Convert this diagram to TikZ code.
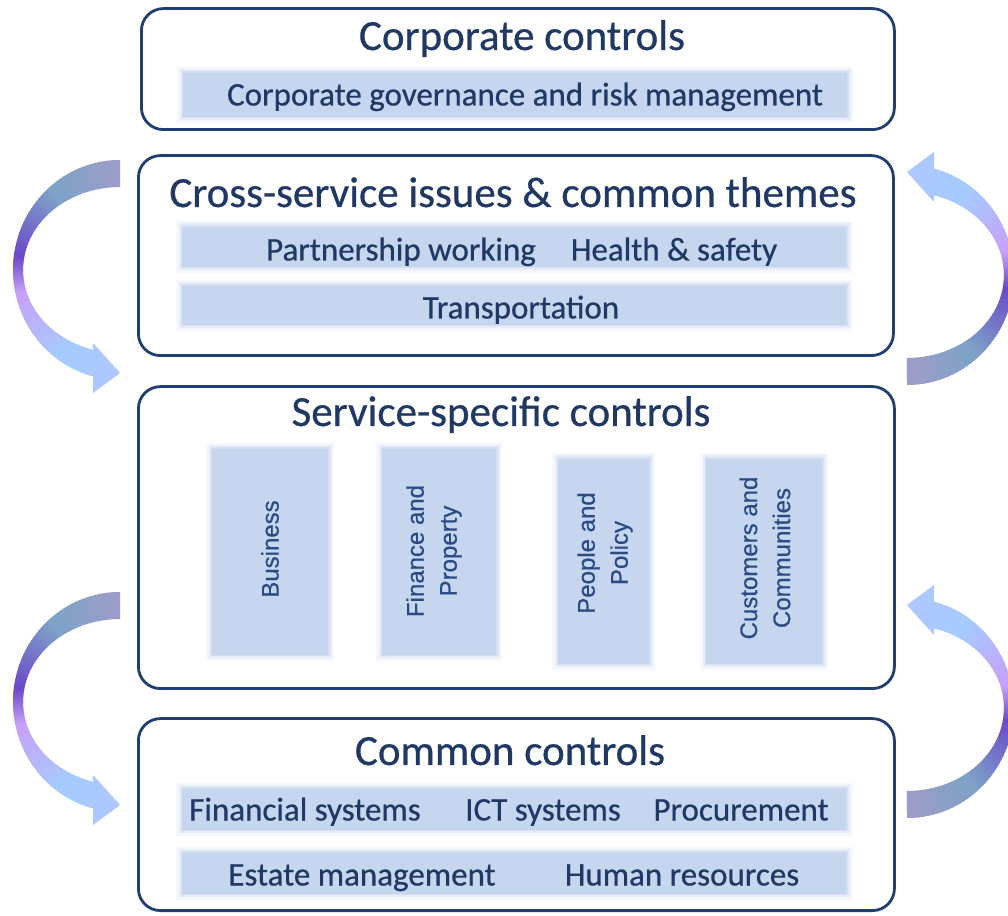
\documentclass[tikz,border=0pt]{standalone}
\usepackage{fontspec}
\setmainfont{Carlito}[FakeBold=0.6]
\newfontfamily\vfont{Liberation Sans}[FakeBold=0.5]
\definecolor{navy}{HTML}{1F3864}
\definecolor{boxline}{HTML}{203F70}
\definecolor{band}{HTML}{C6D6EE}
\definecolor{vtext}{HTML}{2A4A84}
\definecolor{cA}{HTML}{A09CC8}
\definecolor{cB}{HTML}{7EA2C8}
\definecolor{cC}{HTML}{6A48C8}
\definecolor{cD}{HTML}{C8A0F8}
\definecolor{cE}{HTML}{A4CCFF}
\definecolor{cF}{HTML}{B8C4FF}
\tikzset{
  bigbox/.style={draw=boxline,line width=2.8pt,rounded corners=22pt,fill=white},
  soft/.style={fill=band,
    preaction={draw=band!20!white,line width=12pt},
    preaction={draw=band!45!white,line width=7pt},
    preaction={draw=band!75!white,line width=3pt}},
  title/.style={text=navy,font=\fontsize{43}{46}\selectfont,inner sep=0pt,text height=28pt,text depth=8pt},
  item/.style={text=navy,font=\fontsize{33}{36}\selectfont,inner sep=0pt,text height=22pt,text depth=7pt},
  vlabel/.style={text=vtext,font=\vfont\fontsize{24}{33}\selectfont,rotate=90,align=center,inner sep=0pt},
}
\newcommand\arrowpath{(0,110) arc[start angle=90,end angle=255.4,x radius=107pt,y radius=110pt] -- (-27,-123) -- (0,-103) -- (-27,-73) -- (-27,-79.7) arc[start angle=253.8,end angle=90,x radius=97pt,y radius=83pt] -- cycle}
\newcommand\curvedarrow[3]{%
  \begin{scope}[shift={(#1,#2)},rotate=#3]
    \clip \arrowpath;
    \foreach \s/\e/\ca/\cb in {85/130/cA/cB,130/172/cB/cC,172/192/cC/cD,192/235/cD/cE,235/290/cE/cF}{
      \foreach \i in {0,...,19}{
        \pgfmathsetmacro\a{\s+(\e-\s)*\i/20}
        \pgfmathsetmacro\b{\a+(\e-\s)/20+0.6}
        \pgfmathtruncatemacro\p{100-5*\i}
        \fill[\ca!\p!\cb] (0,0) -- (\a:170pt) arc[start angle=\a,end angle=\b,radius=170pt] -- cycle;
      }
    }
  \end{scope}
}
\begin{document}
\begin{tikzpicture}[x=1pt,y=1pt]
\useasboundingbox (0,0) rectangle (1008,915);
\fill[white] (0,0) rectangle (1008,915);

% curved arrows
\curvedarrow{120}{645}{0}
\curvedarrow{120}{213}{0}
\curvedarrow{907}{640}{180}
\curvedarrow{907}{207}{180}

% big boxes
\node[bigbox,minimum width=753pt,minimum height=121pt,anchor=south west] (corp) at (140,784) {};
\node[bigbox,minimum width=755pt,minimum height=200pt,anchor=south west] (cross) at (137,558) {};
\node[bigbox,minimum width=756pt,minimum height=302pt,anchor=south west] (serv) at (137,225) {};
\node[bigbox,minimum width=756pt,minimum height=192pt,anchor=south west] (comm) at (137,3) {};

% bands
\node[soft,minimum width=664pt,minimum height=44pt,anchor=south west] (b1) at (183,798) {};
\node[soft,minimum width=664pt,minimum height=40pt,anchor=south west] (b2) at (182,648) {};
\node[soft,minimum width=664pt,minimum height=39pt,anchor=south west] (b3) at (182,590) {};
\node[soft,minimum width=664pt,minimum height=41pt,anchor=south west] (b4) at (182,85) {};
\node[soft,minimum width=664pt,minimum height=41pt,anchor=south west] (b5) at (182,21) {};

\node[soft,minimum width=116pt,minimum height=206pt,anchor=south west] (v1) at (212,260) {};
\node[soft,minimum width=114pt,minimum height=206pt,anchor=south west] (v2) at (382,260) {};
\node[soft,minimum width=91pt,minimum height=205pt,anchor=south west] (v3) at (558,251) {};
\node[soft,minimum width=116pt,minimum height=205pt,anchor=south west] (v4) at (706,251) {};

% titles
\node[title] (t1) at (522,875) {Corporate controls};
\node[title] (t2) at (513,718) {Cross-service issues \& common themes};
\node[title] (t3) at (501,499) {Service-specific controls};
\node[title] (t4) at (510,160) {Common controls};

% items
\node[item] (i1) at (525,817) {Corporate governance and risk management};
\node[item] (i2) at (401,662) {Partnership working};
\node[item] (i3) at (674,662) {Health \& safety};
\node[item] (i4) at (521,604) {Transportation};
\node[item] (i5) at (305,102) {Financial systems};
\node[item] (i6) at (543,102) {ICT systems};
\node[item] (i7) at (741,102) {Procurement};
\node[item] (i8) at (362,37) {Estate management};
\node[item] (i9) at (682,37) {Human resources};

% vertical labels
\node[vlabel] (l1) at (270,366) {Business};
\node[vlabel] (l2) at (434,364) {Finance and\\Property};
\node[vlabel] (l3) at (605,362) {People and\\Policy};
\node[vlabel] (l4) at (765,357) {Customers and\\Communities};
\end{tikzpicture}
\end{document}
